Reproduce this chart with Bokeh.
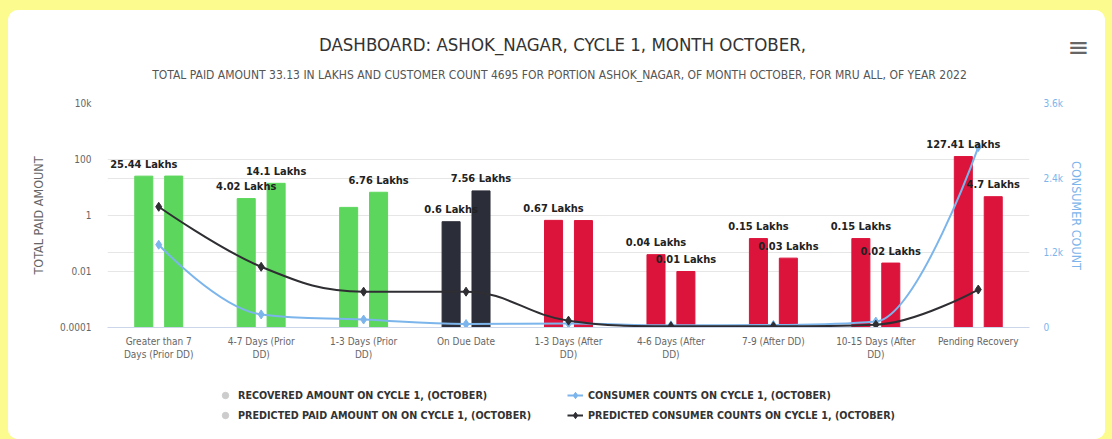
from bokeh.plotting import figure
from bokeh.models import (ColumnDataSource, FactorRange, Range1d, LinearAxis, LinearScale, FixedTicker,
                          CustomJSTickFormatter, Grid, Legend, LegendItem, Label)
from bokeh.core.properties import value
from bokeh.transform import dodge
from bokeh.layouts import column
from bokeh.embed import file_html
from bokeh.resources import INLINE

# ---------------- data ----------------
categories = ["Greater than 7\nDays (Prior DD)", "4-7 Days (Prior\nDD)", "1-3 Days (Prior\nDD)",
              "On Due Date", "1-3 Days (After\nDD)", "4-6 Days (After\nDD)", "7-9 (After DD)",
              "10-15 Days (After\nDD)", "Pending Recovery"]
recovered_amount = [25.44, 4.02, 1.95, 0.6, 0.67, 0.04, 0.15, 0.15, 127.41]
predicted_amount = [25.6, 14.1, 6.76, 7.56, 0.66, 0.01, 0.03, 0.02, 4.7]
recovered_label_shown = [True, True, False, True, True, True, True, True, True]
predicted_label_shown = [False, True, True, True, False, True, True, True, True]
bar_colors = ["#5cd65c", "#5cd65c", "#5cd65c", "#2b2d38", "#dc143c", "#dc143c", "#dc143c", "#dc143c", "#dc143c"]
consumer_counts = [1330, 210, 128, 55, 65, 35, 40, 95, 2900]
predicted_counts = [1940, 976, 576, 576, 110, 20, 20, 45, 610]
left_ticks = [0.0001, 0.01, 1, 100, 10000]
right_ticks = [0, 1200, 2400, 3600]

title_text = "DASHBOARD: ASHOK_NAGAR, CYCLE 1, MONTH OCTOBER,"
subtitle_text = ("TOTAL PAID AMOUNT 33.13 IN LAKHS AND CUSTOMER COUNT 4695 FOR PORTION ASHOK_NAGAR, "
                 "OF MONTH OCTOBER, FOR MRU ALL, OF YEAR 2022")
legend_labels = ["RECOVERED AMOUNT ON CYCLE 1, (OCTOBER)",
                 "PREDICTED PAID AMOUNT ON ON CYCLE 1, (OCTOBER)",
                 "CONSUMER COUNTS ON CYCLE 1, (OCTOBER)",
                 "PREDICTED CONSUMER COUNTS ON CYCLE 1, (OCTOBER)"]

FONT = "DejaVu Sans Condensed"
BLUE = "#7cb5ec"
BLACK = "#2e2e33"
GREY_SYM = "#cccccc"
CARD_W = 1097


def bare(fig):
    fig.background_fill_color = "white"
    fig.border_fill_color = "white"
    fig.outline_line_color = None
    return fig


# ---------------- header (title, subtitle, menu) ----------------
head = bare(figure(width=CARD_W, height=83, x_range=Range1d(0, CARD_W), y_range=Range1d(0, 83),
                   x_axis_location=None, y_axis_location=None, output_backend="svg",
                   toolbar_location=None, min_border=0))
head.frame_align = False
head.grid.visible = False
head.add_layout(Label(x=554, y=49, text=title_text, text_align="center", text_baseline="middle",
                      text_font=FONT, text_font_size="18.5px", text_color="#333333"))
head.add_layout(Label(x=551, y=19, text=subtitle_text, text_align="center", text_baseline="middle",
                      text_font=FONT, text_font_size="12px", text_color="#555555"))
head.add_layout(Label(x=1070, y=47, text="\u2261", text_align="center", text_baseline="middle",
                      text_font="DejaVu Sans", text_font_size="26px", text_color="#666666"))

# ---------------- main chart ----------------
p = bare(figure(width=CARD_W, height=282, x_range=FactorRange(*categories),
                y_axis_type="log", y_range=Range1d(1e-4, 1e4),
                output_backend="svg", toolbar_location=None,
                min_border_left=99, min_border_right=76, min_border_top=10, min_border_bottom=48))
p.extra_y_ranges = {"count": Range1d(0, 3600)}
p.extra_y_scales = {"count": LinearScale()}

src = ColumnDataSource(dict(
    cat=categories, rec=recovered_amount, pred=predicted_amount, color=bar_colors,
    bottom=[left_ticks[0]] * len(categories),
    rec_lbl=[f"{v:g} Lakhs" if s else "" for v, s in zip(recovered_amount, recovered_label_shown)],
    pred_lbl=[f"{v:g} Lakhs" if s else "" for v, s in zip(predicted_amount, predicted_label_shown)],
))
OFF = 0.146
W = 0.176
p.vbar(x=dodge("cat", -OFF, range=p.x_range), top="rec", bottom="bottom", width=W,
       fill_color="color", line_color="color", source=src)
p.vbar(x=dodge("cat", OFF, range=p.x_range), top="pred", bottom="bottom", width=W,
       fill_color="color", line_color="color", source=src)


# spline (Highcharts style smoothing) for the two line series
def spline_segments(xs, ys, smoothing=1.5):
    n = len(xs)
    denom = smoothing + 1
    lc = [(xs[i], ys[i]) for i in range(n)]
    rc = [(xs[i], ys[i]) for i in range(n)]
    for i in range(1, n - 1):
        px, py = xs[i], ys[i]
        lx, ly = xs[i - 1], ys[i - 1]
        nx, ny = xs[i + 1], ys[i + 1]
        lcx = (smoothing * px + lx) / denom
        lcy = (smoothing * py + ly) / denom
        rcx = (smoothing * px + nx) / denom
        rcy = (smoothing * py + ny) / denom
        if rcx != lcx:
            corr = ((rcy - lcy) * (rcx - px)) / (rcx - lcx) + py - rcy
            lcy += corr
            rcy += corr
        if lcy > ly and lcy > py:
            lcy = max(ly, py); rcy = 2 * py - lcy
        elif lcy < ly and lcy < py:
            lcy = min(ly, py); rcy = 2 * py - lcy
        if rcy > ny and rcy > py:
            rcy = max(ny, py); lcy = 2 * py - rcy
        elif rcy < ny and rcy < py:
            rcy = min(ny, py); lcy = 2 * py - rcy
        lc[i] = (lcx, lcy)
        rc[i] = (rcx, rcy)
    seg = dict(x0=[], y0=[], x1=[], y1=[], cx0=[], cy0=[], cx1=[], cy1=[])
    for i in range(1, n):
        seg["x0"].append(xs[i - 1]); seg["y0"].append(ys[i - 1])
        seg["x1"].append(xs[i]); seg["y1"].append(ys[i])
        seg["cx0"].append(rc[i - 1][0]); seg["cy0"].append(rc[i - 1][1])
        seg["cx1"].append(lc[i][0]); seg["cy1"].append(lc[i][1])
    return seg


xc = [i + 0.5 for i in range(len(categories))]  # synthetic centres of the categories
for counts, col in ((consumer_counts, BLUE), (predicted_counts, BLACK)):
    p.bezier(x0="x0", y0="y0", x1="x1", y1="y1", cx0="cx0", cy0="cy0", cx1="cx1", cy1="cy1",
             source=ColumnDataSource(spline_segments(xc, counts)), line_color=col, line_width=2,
             y_range_name="count")
    p.scatter(x=xc, y=counts, marker="diamond", size=9, color=col, y_range_name="count")

# data labels
for key, off in (("rec", -OFF), ("pred", OFF)):
    p.text(x=dodge("cat", off, range=p.x_range), y=key, text=key + "_lbl", source=src,
           text_align="center", text_baseline="middle", y_offset=-12,
           text_font=value(FONT), text_font_size="11px", text_font_style="bold", text_color="#222222")

# axes
fmt = CustomJSTickFormatter(code="""
    if (tick >= 1000) { return (tick/1000) + 'k'; }
    return String(tick);
""")
ya = p.yaxis[0]
ya.ticker = FixedTicker(ticks=left_ticks)
ya.formatter = fmt
ya.axis_label = "TOTAL PAID AMOUNT"
ya.axis_label_text_color = "#666666"
ya.axis_label_standoff = 11
ya.major_label_text_color = "#666666"
ya.major_label_standoff = 10

ra = LinearAxis(y_range_name="count", ticker=FixedTicker(ticks=right_ticks), formatter=fmt,
                axis_label="CONSUMER COUNT")
ra.axis_label_text_color = BLUE
ra.axis_label_standoff = 3
ra.major_label_text_color = BLUE
ra.major_label_standoff = 8
p.add_layout(ra, "right")

for ax in (ya, ra):
    ax.axis_label_text_font = FONT
    ax.axis_label_text_font_size = "12.5px"
    ax.axis_label_text_font_style = "normal"
    ax.major_label_text_font = FONT
    ax.major_label_text_font_size = "10px"
    ax.axis_line_color = None
    ax.major_tick_line_color = None
    ax.minor_tick_line_color = None

xa = p.xaxis[0]
xa.major_label_text_font = FONT
xa.major_label_text_font_size = "10px"
xa.major_label_text_color = "#666666"
xa.major_label_standoff = 2
xa.axis_line_color = "#ccd6eb"
xa.major_tick_line_color = None
xa.minor_tick_line_color = None

p.xgrid.grid_line_color = None
p.ygrid.grid_line_color = "#e6e6e6"
p.ygrid.ticker = FixedTicker(ticks=left_ticks)
p.add_layout(Grid(dimension=1, ticker=FixedTicker(ticks=right_ticks), y_range_name="count",
                  grid_line_color="#e6e6e6"))

# ---------------- legend strip ----------------
lf = bare(figure(width=CARD_W, height=64, x_range=Range1d(0, 1), y_range=Range1d(0, 1),
                 x_axis_location=None, y_axis_location=None, output_backend="svg",
                 toolbar_location=None, min_border=0))
lf.frame_align = False
lf.grid.visible = False
# legend-only renderers: their points lie outside the visible range
OUT = dict(x=[-5, -4], y=[-5, -4])
g_rec = lf.scatter(marker="circle", size=10, color=GREY_SYM, **OUT)
g_pred = lf.scatter(marker="circle", size=10, color=GREY_SYM, **OUT)
g_bl = [lf.line(line_color=BLUE, line_width=2, **OUT),
        lf.scatter(marker="diamond", size=9, color=BLUE, **OUT)]
g_bk = [lf.line(line_color=BLACK, line_width=2, **OUT),
        lf.scatter(marker="diamond", size=9, color=BLACK, **OUT)]
leg_style = dict(label_text_font=FONT, label_text_font_size="10.7px", label_text_color="#333333",
                 label_text_font_style="bold", border_line_color=None, background_fill_alpha=0,
                 glyph_width=16, glyph_height=20, label_standoff=5, spacing=-2, padding=2, margin=0,
                 orientation="vertical")
lf.add_layout(Legend(items=[LegendItem(label=legend_labels[0], renderers=[g_rec]),
                            LegendItem(label=legend_labels[1], renderers=[g_pred])],
                     location=(209, 14), **leg_style))
lf.add_layout(Legend(items=[LegendItem(label=legend_labels[2], renderers=g_bl),
                            LegendItem(label=legend_labels[3], renderers=g_bk)],
                     location=(559, 14), **leg_style))

card = column(head, p, lf, spacing=0,
              styles={"border-radius": "10px", "overflow": "hidden", "background-color": "white"})
card.margin = (10, 0, 0, 8)
page = column(card, width=1112, height=439, styles={"background-color": "#fcfc8e"})

open("out.html", "w").write(file_html(page, INLINE))
